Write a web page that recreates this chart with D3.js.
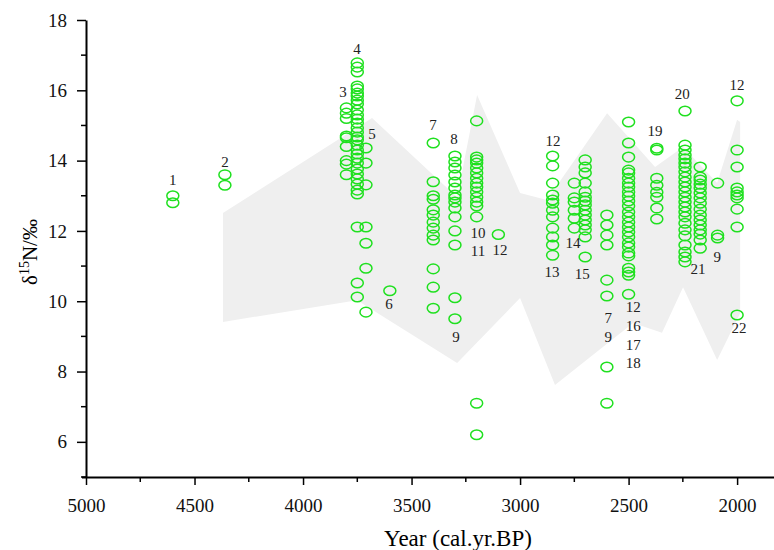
<!DOCTYPE html>
<html>
<head>
<meta charset="utf-8">
<script src="https://cdn.jsdelivr.net/npm/d3@7"></script>
<style>
	body { margin: 0; background: #fff; }
	svg { display: block; }
	svg text { font-family: "Liberation Serif", "Times New Roman", serif; }
</style>
</head>
<body>
<div id="chart"></div>
<script>

// columns of samples, one per site/period (year cal. BP)
const colYears = [4600, 4360, 3800, 3750, 3710, 3600, 3400, 3300, 3200, 3100, 2850, 2750, 2700, 2600, 2500, 2370, 2240, 2170, 2090, 2000];

const colValues = [
	[13.0, 12.8],
	[13.6, 13.3],
	[15.5, 15.35, 15.2, 14.7, 14.65, 14.4, 14.0, 13.9, 13.6],
	[16.78, 16.66, 16.52, 16.12, 16.04, 15.92, 15.84, 15.72, 15.61, 15.44, 15.30, 15.18, 15.07, 14.93, 14.81, 14.67, 14.59, 14.44, 14.30, 14.19, 14.07, 13.93, 13.76, 13.62, 13.48, 13.33, 13.16, 13.05, 12.11, 10.52, 10.12],
	[14.36, 13.93, 13.31, 12.11, 11.65, 10.94, 9.69],
	[10.3],
	[14.5, 13.4, 13.0, 12.9, 12.6, 12.45, 12.25, 12.08, 11.88, 11.74, 10.92, 10.4, 9.8],
	[14.13, 13.96, 13.79, 13.59, 13.39, 13.22, 13.02, 12.94, 12.82, 12.65, 12.4, 12.0, 11.6, 10.1, 9.5],
	[15.13, 14.1, 14.02, 13.93, 13.79, 13.65, 13.5, 13.36, 13.25, 13.11, 12.96, 12.82, 12.71, 12.4, 7.1, 6.2],
	[11.9],
	[14.13, 13.85, 13.36, 13.02, 12.88, 12.79, 12.59, 12.4, 12.08, 11.83, 11.6, 11.31],
	[13.36, 12.94, 12.82, 12.59, 12.36, 12.08],
	[14.02, 13.82, 13.65, 13.36, 13.11, 12.96, 12.85, 12.74, 12.59, 12.45, 12.31, 12.17, 12.03, 11.83, 11.26],
	[12.45, 12.17, 11.88, 11.6, 10.6, 10.15, 8.13, 7.1],
	[15.1, 14.5, 14.1, 13.73, 13.65, 13.5, 13.36, 13.25, 13.11, 12.99, 12.85, 12.71, 12.54, 12.4, 12.25, 12.11, 11.97, 11.83, 11.66, 11.54, 11.37, 11.29, 10.94, 10.83, 10.74, 10.2],
	[14.35, 14.3, 13.5, 13.3, 13.1, 12.96, 12.65, 12.34],
	[15.41, 14.44, 14.3, 14.16, 14.05, 13.93, 13.82, 13.68, 13.53, 13.39, 13.25, 13.11, 12.96, 12.82, 12.68, 12.54, 12.4, 12.22, 12.03, 11.86, 11.6, 11.4, 11.26, 11.12],
	[13.82, 13.53, 13.45, 13.33, 13.22, 13.08, 12.94, 12.79, 12.62, 12.45, 12.31, 12.17, 12.03, 11.91, 11.74, 11.51],
	[13.36, 11.88, 11.8],
	[15.7, 14.3, 13.82, 13.22, 13.11, 13.02, 12.94, 12.62, 12.11, 9.61]
];

// grey envelope (upper edge, lower edge)
const upperYears = [4369, 3682, 3290, 3198, 3000, 2876, 2599, 2378, 2249, 2092, 2000, 1986];
const upperValues = [12.51, 15.21, 12.96, 15.87, 13.08, 12.88, 15.35, 13.82, 14.39, 13.36, 15.16, 15.1];
const lowerYears = [4369, 3751, 3290, 3000, 2839, 2479, 2346, 2249, 2092, 1986];
const lowerValues = [9.41, 10.03, 8.24, 10.09, 7.62, 9.38, 9.10, 10.40, 8.33, 9.66];

// site numbers written next to the columns
const labelText = ["1", "2", "3", "4", "5", "6", "7", "8", "9", "10", "11", "12", "12", "13", "14", "15", "7", "9", "12", "16", "17", "18", "19", "20", "21", "9", "12", "22"];
const labelYears = [4600, 4360, 3816, 3751, 3682, 3604, 3401, 3304, 3295, 3194, 3194, 3092, 2848, 2853, 2756, 2714, 2594, 2594, 2479, 2479, 2479, 2479, 2378, 2253, 2180, 2092, 2000, 1991];
const labelValues = [13.45, 13.96, 15.95, 17.17, 14.76, 9.92, 15.01, 14.61, 8.98, 11.94, 11.43, 11.46, 14.56, 10.83, 11.66, 10.77, 9.52, 8.98, 9.83, 9.29, 8.75, 8.24, 14.84, 15.89, 10.92, 11.26, 16.15, 9.24];

const xMajor = [5000, 4500, 4000, 3500, 3000, 2500, 2000];
const xMinor = [4750, 4250, 3750, 3250, 2750, 2250];
const yMajor = [6, 8, 10, 12, 14, 16, 18];
const yMinor = [5, 7, 9, 11, 13, 15, 17];

const W = 774, H = 550;

const svg = d3.select("#chart").append("svg")
	.attr("width", W)
	.attr("height", H);

const x = d3.scaleLinear().domain([5000, 1830]).range([86, 774]);
const y = d3.scaleLinear().domain([5, 18]).range([477, 20]);

// envelope polygon
const band = upperYears.map((d, i) => [d, upperValues[i]])
	.concat(lowerYears.map((d, i) => [d, lowerValues[i]]).reverse());

svg.append("path")
	.datum(band)
	.attr("d", d3.line().x(d => x(d[0])).y(d => y(d[1])).curve(d3.curveLinearClosed))
	.style("fill", "#efefef")
	.style("stroke", "none");

// points
const pts = [];
colYears.forEach((yr, i) => colValues[i].forEach(v => pts.push({ year: yr, value: v })));

svg.append("g").selectAll("ellipse").data(pts).enter().append("ellipse")
	.attr("cx", d => x(d.year))
	.attr("cy", d => y(d.value))
	.attr("rx", 6)
	.attr("ry", 4.8)
	.style("fill", "none")
	.style("stroke", "#1fe01f")
	.style("stroke-width", 1.5);

// labels
svg.append("g").selectAll("text").data(labelText).enter().append("text")
	.attr("x", (d, i) => x(labelYears[i]))
	.attr("y", (d, i) => y(labelValues[i]))
	.attr("text-anchor", "middle")
	.attr("dominant-baseline", "central")
	.style("font-size", "15px")
	.style("fill", "#222")
	.text(d => d);

// axes
const xAxis = svg.append("g")
	.attr("transform", "translate(0," + y(5) + ")")
	.call(d3.axisBottom(x).tickValues(xMajor).tickFormat(d3.format("d")).tickSize(8).tickSizeOuter(0).tickPadding(14))
	.attr("font-family", null);
xAxis.selectAll(".tick text").style("font-size", "19px").style("fill", "#111");
xAxis.select(".domain").attr("d", "M82,0.5H774").style("stroke-width", 2);
xAxis.selectAll(".minor").data(xMinor).enter().append("line").attr("class", "minor")
	.attr("x1", d => x(d)).attr("x2", d => x(d)).attr("y1", 0).attr("y2", 5)
	.style("stroke", "#000").style("stroke-width", 1.5);
xAxis.selectAll(".tick line").style("stroke-width", 1.5);

const yAxis = svg.append("g")
	.attr("transform", "translate(" + x(5000) + ",0)")
	.call(d3.axisLeft(y).tickValues(yMajor).tickSize(9).tickSizeOuter(0).tickPadding(10))
	.attr("font-family", null);
yAxis.selectAll(".tick text").style("font-size", "19px").style("fill", "#111");
yAxis.select(".domain").style("stroke-width", 2);
yAxis.selectAll(".minor").data(yMinor).enter().append("line").attr("class", "minor")
	.attr("y1", d => y(d)).attr("y2", d => y(d)).attr("x1", 0).attr("x2", -5)
	.style("stroke", "#000").style("stroke-width", 1.5);
yAxis.selectAll(".tick line").style("stroke-width", 1.5);

// axis titles
svg.append("text")
	.attr("x", 458)
	.attr("y", 546)
	.attr("text-anchor", "middle")
	.style("font-size", "23px")
	.text("Year (cal.yr.BP)");

const yt = svg.append("text")
	.attr("transform", "translate(37,252) rotate(-90)")
	.attr("text-anchor", "middle")
	.style("font-size", "21px");
yt.append("tspan").text("δ");
yt.append("tspan").attr("dy", -8).style("font-size", "14px").text("15");
yt.append("tspan").attr("dy", 8).text("N/‰");

</script>
</body>
</html>
